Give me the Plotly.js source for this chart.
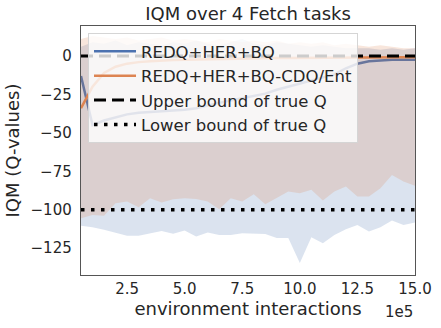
<!DOCTYPE html>
<html>
<head>
<meta charset="utf-8">
<script src="https://cdn.plot.ly/plotly-3.0.1.min.js"></script>
<style>
  html, body { margin: 0; padding: 0; background: #fff; }
  #chart { width: 441px; height: 328px; }
</style>
</head>
<body>
<div id="chart"></div>
<script>
const steps = [50000, 100000, 150000, 200000, 250000, 300000, 350000, 400000, 450000, 500000,
    550000, 600000, 650000, 700000, 750000, 800000, 850000, 900000, 950000, 1000000,
    1050000, 1100000, 1150000, 1200000, 1250000, 1300000, 1350000, 1400000, 1450000, 1500000];

const bqMean = [-13, -45, -42, -40, -38, -37, -36.5, -36, -35.5, -35,
    -34, -32, -30.5, -29, -27.5, -26, -24.5, -22, -20, -18,
    -16, -14, -12, -8, -5, -3.5, -3, -2.5, -2.5, -2.5];
const bqHigh = [6, 9, 8, 10, 7, 9, 8, 7, 9, 8,
    10, 8, 7, 9, 11, 8, 7, 9, 8, 7,
    6, 7, 6, 5, 5, 5, 4, 5, 4, 5];
const bqLow = [-110.5, -111.4, -113.1, -115.3, -117, -117, -115.3, -113.8, -115.7, -113.5,
    -117.4, -114.8, -116.4, -116.4, -115.3, -115.7, -115.9, -118.5, -118.5, -134.7,
    -117.9, -121.8, -116.4, -112.7, -109.9, -114.2, -111.4, -107.1, -109.9, -108.4];

const cdqMean = [-34, -20, -11, -7, -5, -4, -3.5, -3, -2.7, -2.5,
    -2.3, -2.1, -2, -1.8, -1.7, -1.6, -1.5, -1.4, -1.3, -1.2,
    -1.1, -1, -1, -1, -0.9, -0.9, -0.8, -0.8, -0.8, -0.8];
const cdqHigh = [11, 13, 12, 11, 12, 10, 11, 12, 10, 11,
    10, 9, 11, 10, 9, 10, 9, 10, 8, 9,
    8, 9, 7, 8, 7, 6, 7, 6, 5, 5];
const cdqLow = [-105.5, -103.4, -104, -95.8, -94.7, -98.4, -92.5, -95.4, -93.2, -92.5,
    -93, -94.7, -99.7, -92.5, -94.7, -90, -96.4, -92.5, -88.2, -89.3,
    -87.1, -94.1, -88.2, -85, -91.5, -91.5, -86, -77.4, -81.7, -84.5];

const upperBound = 0;
const lowerBound = -100;

const xTicks = [250000, 500000, 750000, 1000000, 1250000, 1500000];
const xTickText = ['2.5', '5.0', '7.5', '10.0', '12.5', '15.0'];

const blue = '#4c72b0';
const orange = '#dd8452';
const ink = '#262626';
const ends = [steps[0], steps[steps.length - 1]];

function band(hi, lo, fillcolor) {
    return [
        {x: steps, y: hi, type: 'scatter', mode: 'lines', line: {width: 0},
         showlegend: false, hoverinfo: 'skip'},
        {x: steps, y: lo, type: 'scatter', mode: 'lines', line: {width: 0},
         fill: 'tonexty', fillcolor: fillcolor, showlegend: false, hoverinfo: 'skip'}
    ];
}

const traces = [
    ...band(bqHigh, bqLow, 'rgba(76,114,176,0.2)'),
    {x: steps, y: bqMean, name: 'REDQ+HER+BQ', type: 'scatter', mode: 'lines',
     line: {color: blue, width: 2.5}},
    ...band(cdqHigh, cdqLow, 'rgba(221,132,82,0.2)'),
    {x: steps, y: cdqMean, name: 'REDQ+HER+BQ-CDQ/Ent', type: 'scatter', mode: 'lines',
     line: {color: orange, width: 2.5}},
    {x: ends, y: [upperBound, upperBound], name: 'Upper bound of true Q', type: 'scatter',
     mode: 'lines', line: {color: '#000', width: 3, dash: '12px,6px'}},
    {x: ends, y: [lowerBound, lowerBound], name: 'Lower bound of true Q', type: 'scatter',
     mode: 'lines', line: {color: '#000', width: 3.5, dash: '3.5px,6.5px'}}
];

const layout = {
    width: 441,
    height: 328,
    margin: {l: 81, r: 26, t: 26, b: 53},
    paper_bgcolor: '#fff',
    plot_bgcolor: '#fff',
    font: {family: 'DejaVu Sans', size: 15, color: ink},
    title: {text: 'IQM over 4 Fetch tasks', font: {size: 18, color: ink},
            x: 0.5625, xanchor: 'center', yref: 'container', y: 0.957, yanchor: 'middle'},
    xaxis: {
        range: [steps[0], steps[steps.length - 1]],
        tickvals: xTicks, ticktext: xTickText,
        showgrid: false, zeroline: false, ticks: '',
        showline: true, mirror: true, linecolor: '#555', linewidth: 1.25,
        title: {text: 'environment interactions', font: {size: 18}, standoff: 5}
    },
    yaxis: {
        range: [-142.5, 19.5], dtick: 25, tick0: 0,
        showgrid: false, zeroline: false, ticks: '', ticklabelstandoff: 5,
        showline: true, mirror: true, linecolor: '#555', linewidth: 1.25,
        title: {text: 'IQM (Q-values)', font: {size: 18}, standoff: 6}
    },
    legend: {
        x: 0.021, y: 0.972, xanchor: 'left', yanchor: 'top',
        traceorder: 'normal', itemwidth: 42,
        bgcolor: 'rgba(255,255,255,0.8)', bordercolor: '#d5d5d5', borderwidth: 1,
        font: {size: 16.5, color: ink}
    },
    annotations: [{
        text: '1e5', xref: 'paper', yref: 'paper', x: 1, y: -0.149,
        xanchor: 'right', yanchor: 'middle', showarrow: false, font: {size: 15, color: ink}
    }]
};

Plotly.newPlot('chart', traces, layout, {displayModeBar: false, staticPlot: true});
</script>
</body>
</html>
